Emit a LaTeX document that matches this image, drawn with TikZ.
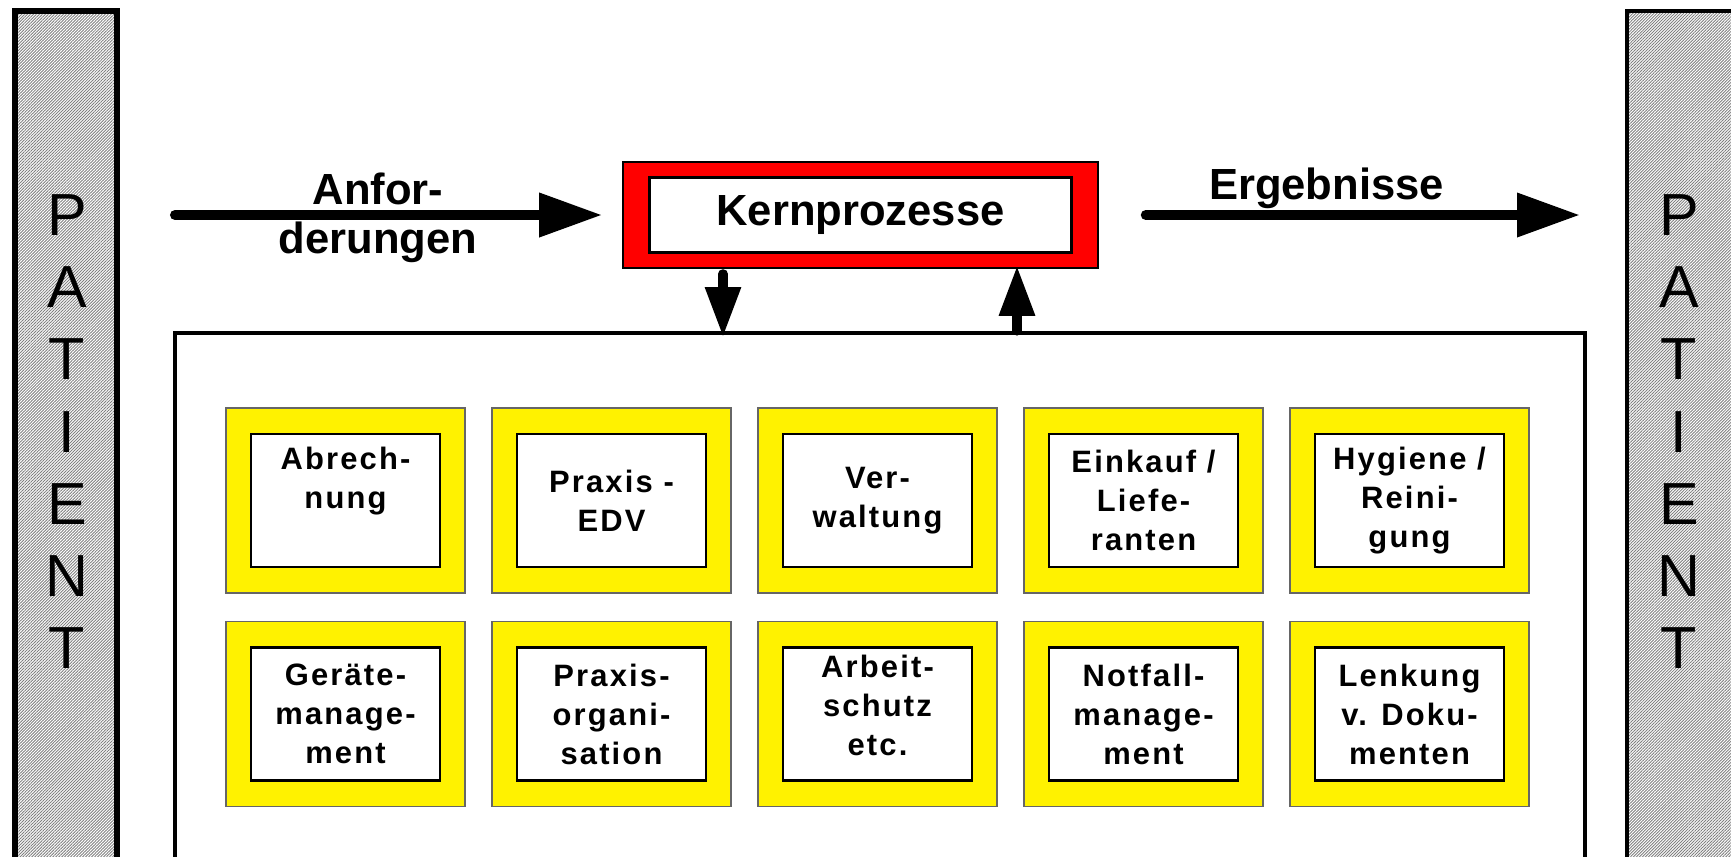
\documentclass[tikz,border=0pt]{standalone}
\usepackage{fontspec}
\setmainfont{Liberation Sans}
\newfontfamily\cellfont[LetterSpace=7]{Liberation Sans}
\usetikzlibrary{arrows.meta,patterns.meta}

\begin{document}
\begin{tikzpicture}[
  hatch/.style={pattern={Lines[angle=45,distance=0.6pt,line width=0.25pt]},pattern color=black!50},
  bigtext/.style={font=\bfseries\fontsize{12.4}{14}\selectfont,align=center},
  patientletter/.style={font=\fontsize{16.9}{18}\selectfont},
  kernbox/.style={draw,fill=red,line width=0.45pt,minimum width=4.75cm,minimum height=1.06cm},
  kernin/.style={draw,fill=white,line width=0.6pt,minimum width=4.22cm,minimum height=0.75cm,bigtext},
  ring/.style={draw=black!60,fill=yellow,line width=0.3pt,minimum width=2.39cm,minimum height=1.85cm},
  cell/.style={draw,fill=white,line width=0.7pt,minimum width=1.89cm,minimum height=1.33cm,
    align=center,font=\cellfont\bfseries\fontsize{8.8}{11.1}\selectfont},
  bigarrow/.style={line width=2.85pt,line cap=round,-{Triangle[length=6.3mm,width=4.2mm]}},
  vecarrow/.style={line width=2.6pt,line cap=round,-{Triangle[length=5mm,width=3.4mm]}}
]
\clip (0,0) rectangle (17.31,8.56);
\fill[white] (0,0) rectangle (17.31,8.56);

% patient bars left and right
\fill[hatch] (0.15,-0.2) rectangle (1.17,8.45);
\draw[line width=1.7pt] (0.15,-0.2) rectangle (1.17,8.45);
\fill[hatch] (16.27,-0.2) rectangle (17.40,8.45);
\draw[line width=1.15pt] (16.27,-0.2) rectangle (17.40,8.45);
\foreach \ch [count=\k from 0] in {P,A,T,I,E,N,T} {
  \node[patientletter] (pl\k) at (0.67,6.41-0.722*\k) {\ch};
  \node[patientletter] (pr\k) at (16.79,6.41-0.722*\k) {\ch};
}

% core process
\node[kernbox] (kern) at (8.605,6.41) {};
\node[kernin] (kernin) at (kern) {Kernprozesse};

% frame of the support processes
\node[draw,line width=1pt,minimum width=14.1cm,minimum height=6cm,anchor=north west] (main) at (1.73,5.25) {};

% in and out
\coordinate (anf) at (1.75,6.41);
\coordinate (erg) at (15.80,6.41);
\draw[bigarrow] (anf) -- ([xshift=-2mm]kern.west);
\draw[bigarrow] ([xshift=4.7mm]kern.east) -- (erg);
\node[bigtext] (anftext) at (3.78,6.38) {Anfor-\\derungen};
\node[bigtext] (ergtext) at (13.265,6.68) {Ergebnisse};

\coordinate (dn) at (7.23,0);
\coordinate (up) at (10.17,0);
\draw[vecarrow] ([yshift=-0.5mm]kern.south -| dn) -- ([yshift=-0.6mm]main.north -| dn);
\draw[vecarrow] (main.north -| up) -- ([yshift=0.3mm]kern.south -| up);

% support processes
\foreach \lbl [count=\c from 0] in {{Abrech-\\nung\\\vphantom{g}},{Praxis -\\EDV},{Ver-\\waltung},
    {Einkauf /\\Liefe-\\ranten},{Hygiene /\\Reini-\\gung}} {
  \node[ring] (ra\c) at (3.455+2.66*\c,3.555) {};
  \node[cell] (ca\c) at (ra\c) {\lbl};
}
\foreach \lbl/\dy [count=\c from 0] in {{Geräte-\\manage-\\ment}/0,{Praxis-\\organi-\\sation}/0,
    {Arbeit-\\schutz\\etc.}/0.09,{Notfall-\\manage-\\ment}/0,{Lenkung\\v. Doku-\\menten}/0} {
  \node[ring] (rb\c) at (3.455+2.66*\c,1.42) {};
  \node[cell] (cb\c) at (rb\c) {};
  \node[cell,draw=none,fill=none,yshift=\dy cm] (tb\c) at (rb\c) {\lbl};
}
\end{tikzpicture}
\end{document}
